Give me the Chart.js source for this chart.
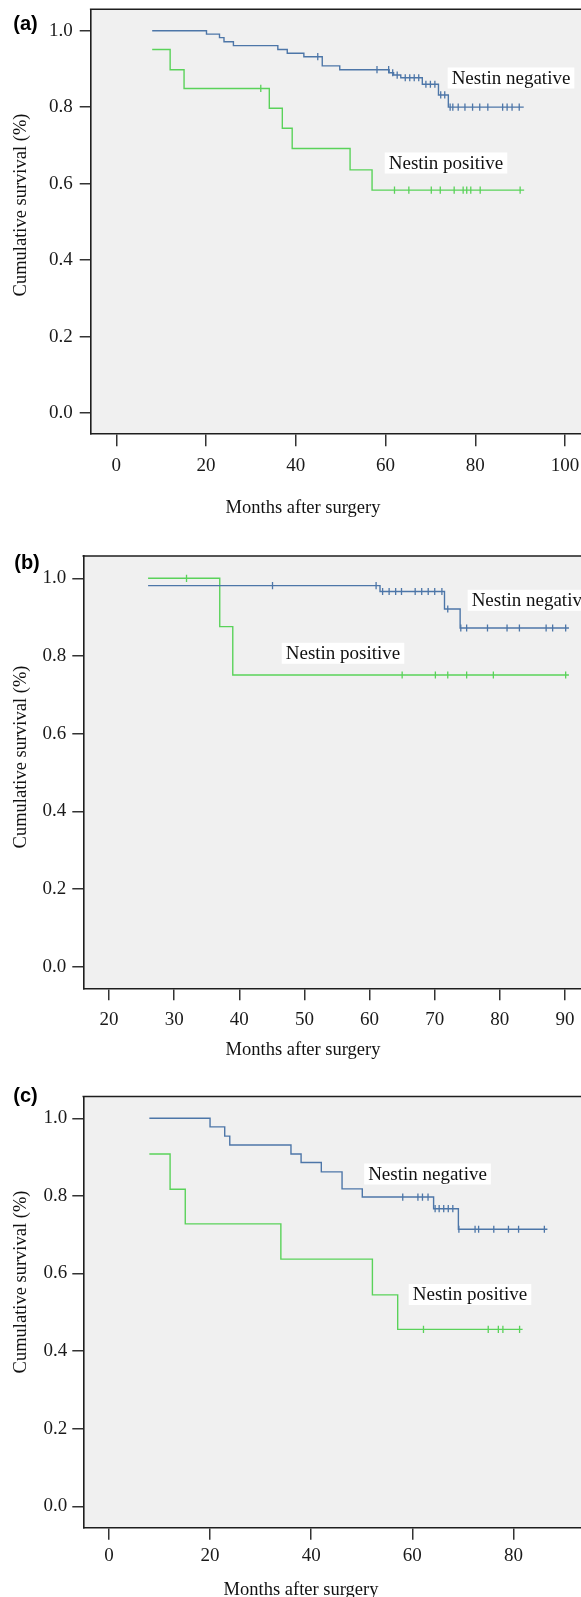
<!DOCTYPE html>
<html><head><meta charset="utf-8">
<script src="https://cdn.jsdelivr.net/npm/chart.js@4.4.1/dist/chart.umd.min.js"></script>
<style>
html,body{margin:0;padding:0;background:#fff;width:581px;height:1597px;overflow:hidden;position:relative;}
canvas{position:absolute;left:0;}
</style></head><body>
<canvas id="ca" width="600" height="530" style="top:0px"></canvas>
<canvas id="cb" width="600" height="535" style="top:530px"></canvas>
<canvas id="cc" width="600" height="532" style="top:1065px"></canvas>
<script>
// ---------- DATA ----------
const yTicks = [0, 0.2, 0.4, 0.6, 0.8, 1.0];
const seriesNames = ['Nestin negative', 'Nestin positive'];
const xTitle = 'Months after surgery';
const yTitle = 'Cumulative survival (%)';

// Panel (a)
const aXTicks = [0, 20, 40, 60, 80, 100];
const aNegTimes = [8.0, 20.1, 23.0, 24.0, 26.1, 36.0, 38.1, 41.8, 45.9, 49.8, 60.8, 61.8, 63.4, 68.2, 71.8, 74.0];
const aNegSurv  = [1.0, 0.991, 0.982, 0.971, 0.961, 0.951, 0.941, 0.932, 0.908, 0.898, 0.890, 0.884, 0.877, 0.860, 0.832, 0.800];
const aNegEnd = 90.8;
const aNegCensor = [44.9, 58.1, 60.7, 61.6, 62.6, 64.4, 65.4, 66.4, 67.4, 69.0, 70.0, 71.0, 72.3, 73.2, 74.4, 75.0, 76.2, 77.7, 79.4, 81.0, 82.8, 86.1, 87.1, 88.2, 89.8];
const aPosTimes = [8.0, 12.0, 15.1, 34.1, 37.0, 39.2, 52.1, 57.0];
const aPosSurv  = [0.951, 0.898, 0.849, 0.797, 0.745, 0.692, 0.636, 0.583];
const aPosEnd = 90.9;
const aPosCensor = [32.2, 62.0, 65.2, 70.2, 72.2, 75.3, 77.3, 78.1, 79.0, 81.1, 90.0];

// Panel (b)
const bXTicks = [20, 30, 40, 50, 60, 70, 80, 90];
const bNegTimes = [26.0, 61.6, 71.5, 73.9];
const bNegSurv  = [0.981, 0.966, 0.921, 0.872];
const bNegEnd = 90.6;
const bNegCensor = [45.1, 61.0, 62.0, 63.0, 64.0, 64.9, 67.0, 68.0, 69.0, 70.0, 71.1, 72.0, 74.0, 74.9, 78.1, 81.1, 83.0, 87.1, 88.1, 90.1];
const bPosTimes = [26.0, 37.0, 39.0];
const bPosSurv  = [1.0, 0.8755, 0.751];
const bPosEnd = 90.6;
const bPosCensor = [31.9, 65.0, 70.1, 72.0, 74.9, 79.0, 90.1];

// Panel (c)
const cXTicks = [0, 20, 40, 60, 80];
const cNegTimes = [8.0, 20.0, 22.9, 23.9, 36.0, 38.0, 42.0, 46.1, 50.1, 64.2, 69.1];
const cNegSurv  = [1.0, 0.978, 0.954, 0.931, 0.908, 0.886, 0.862, 0.818, 0.797, 0.767, 0.714];
const cNegEnd = 86.7;
const cNegCensor = [58.1, 61.1, 62.0, 63.1, 64.5, 65.3, 66.2, 67.1, 68.0, 69.2, 72.4, 73.1, 76.1, 79.0, 81.0, 86.1];
const cPosTimes = [8.0, 12.1, 15.1, 34.0, 52.1, 57.1];
const cPosSurv  = [0.908, 0.817, 0.728, 0.637, 0.545, 0.456];
const cPosEnd = 81.8;
const cPosCensor = [62.2, 75.0, 77.0, 77.9, 81.2];

// ---------- STYLE / LAYOUT ----------
const BLUE = '#4d76a8', GREEN = '#5ad25a';
const SERIF = '"Liberation Serif", "Times New Roman", serif';
const SANS = '"Liberation Sans", Arial, sans-serif';

function kmPoints(times, surv, end) {
  const pts = times.map((t, i) => ({x: t, y: surv[i]}));
  pts.push({x: end, y: surv[surv.length - 1]});
  return pts;
}
function survAt(times, surv, t) {
  let s = surv[0];
  for (let i = 0; i < times.length; i++) if (times[i] <= t) s = surv[i];
  return s;
}
function censorPts(times, surv, cens) {
  return cens.map(t => ({x: t, y: survAt(times, surv, t)}));
}

const framePlugin = {
  id: 'frame',
  beforeDraw(chart) {
    const {ctx, chartArea: a} = chart;
    ctx.save();
    ctx.fillStyle = '#f0f0f0';
    ctx.fillRect(a.left, a.top, a.right - a.left, a.bottom - a.top);
    ctx.restore();
  },
  afterDraw(chart) {
    const {ctx, chartArea: a} = chart;
    const o = chart.options.plugins.frame;
    ctx.save();
    ctx.strokeStyle = '#1e1e1e';
    ctx.lineWidth = 1.6;
    ctx.beginPath();
    ctx.moveTo(a.left - 0.8, a.top);
    ctx.lineTo(a.right, a.top);
    ctx.stroke();
    // panel letter
    ctx.fillStyle = '#000';
    ctx.font = 'bold 20px ' + SANS;
    ctx.textAlign = 'center';
    ctx.textBaseline = 'middle';
    ctx.fillText(o.letter, o.letterX, o.letterY);
    // axis titles
    ctx.font = '18.5px ' + SERIF;
    ctx.fillStyle = '#111';
    ctx.fillText(xTitle, o.xtX, o.xtY);
    ctx.save();
    ctx.translate(o.ytX, o.ytY);
    ctx.rotate(-Math.PI / 2);
    ctx.fillText(yTitle, 0, 0);
    ctx.restore();
    // series labels with white boxes
    ctx.font = '19px ' + SERIF;
    o.labels.forEach(l => {
      const w = ctx.measureText(l.text).width;
      ctx.fillStyle = '#fff';
      ctx.fillRect(l.x - w / 2 - 4, l.y - 10.5, w + 8, 21);
      ctx.fillStyle = '#111';
      ctx.fillText(l.text, l.x, l.y + 1);
    });
    ctx.restore();
  }
};

function makeChart(id, d, L) {
  return new Chart(document.getElementById(id), {
    type: 'line',
    data: {
      datasets: [
        {data: kmPoints(d.negT, d.negS, d.negEnd), borderColor: BLUE, borderWidth: 1.4, stepped: true, pointRadius: 0, fill: false},
        {data: kmPoints(d.posT, d.posS, d.posEnd), borderColor: GREEN, borderWidth: 1.4, stepped: true, pointRadius: 0, fill: false},
        {data: censorPts(d.negT, d.negS, d.negC), showLine: false, pointStyle: 'line', pointRotation: 90, pointRadius: 3.6, borderColor: BLUE, pointBorderColor: BLUE, pointBorderWidth: 1.3},
        {data: censorPts(d.posT, d.posS, d.posC), showLine: false, pointStyle: 'line', pointRotation: 90, pointRadius: 3.6, borderColor: GREEN, pointBorderColor: GREEN, pointBorderWidth: 1.3}
      ]
    },
    options: {
      responsive: false, animation: false, devicePixelRatio: 1,
      layout: {autoPadding: false, padding: {left: 0, right: 0, top: L.top, bottom: L.padBottom}},
      plugins: {legend: {display: false}, tooltip: {enabled: false}, frame: L.frame},
      scales: {
        x: {
          type: 'linear', min: L.xmin, max: L.xmax,
          afterBuildTicks: s => { s.ticks = d.xTicks.map(v => ({value: v})); },
          afterFit: s => { s.height = 60; s.paddingLeft = 0; s.paddingRight = 0; },
          grid: {drawOnChartArea: false, drawTicks: true, tickLength: L.xTickLen, color: '#333', lineWidth: 1.5},
          border: {display: true, color: '#1e1e1e', width: 1.6},
          ticks: {font: {family: SERIF, size: 19}, color: '#1a1a1a', padding: L.xPad, maxRotation: 0, autoSkip: false, callback: v => String(v)}
        },
        y: {
          type: 'linear', min: L.ymin, max: L.ymax,
          afterBuildTicks: s => { s.ticks = yTicks.map(v => ({value: v})); },
          afterFit: s => { s.width = L.left; s.paddingTop = 0; s.paddingBottom = 0; },
          grid: {drawOnChartArea: false, drawTicks: true, tickLength: 11, color: '#333', lineWidth: 1.5},
          border: {display: true, color: '#1e1e1e', width: 1.6},
          ticks: {font: {family: SERIF, size: 19}, color: '#1a1a1a', padding: L.yPad, callback: v => Number(v).toFixed(1)}
        }
      }
    },
    plugins: [framePlugin]
  });
}

makeChart('ca',
  {negT: aNegTimes, negS: aNegSurv, negEnd: aNegEnd, negC: aNegCensor, posT: aPosTimes, posS: aPosSurv, posEnd: aPosEnd, posC: aPosCensor, xTicks: aXTicks},
  {top: 9.3, padBottom: 36.7, left: 90.7, xmin: -5.705, xmax: 107.8, ymin: -0.0531, ymax: 1.056, xTickLen: 13, xPad: 8, yPad: 7,
   frame: {letter: '(a)', letterX: 25.5, letterY: 24.5, xtX: 303, xtY: 508, ytX: 21, ytY: 205,
     labels: [{text: seriesNames[0], x: 511, y: 78}, {text: seriesNames[1], x: 446, y: 163}]}});

makeChart('cb',
  {negT: bNegTimes, negS: bNegSurv, negEnd: bNegEnd, negC: bNegCensor, posT: bPosTimes, posS: bPosSurv, posEnd: bPosEnd, posC: bPosCensor, xTicks: bXTicks},
  {top: 26, padBottom: 16.7, left: 83.3, xmin: 16.055, xmax: 95.37, ymin: -0.0556, ymax: 1.0574, xTickLen: 12, xPad: 8, yPad: 6,
   frame: {letter: '(b)', letterX: 27, letterY: 33, xtX: 303, xtY: 520, ytX: 21, ytY: 227,
     labels: [{text: seriesNames[0], x: 531, y: 70.3}, {text: seriesNames[1], x: 343, y: 123.3}]}});

makeChart('cc',
  {negT: cNegTimes, negS: cNegSurv, negEnd: cNegEnd, negC: cNegCensor, posT: cPosTimes, posS: cPosSurv, posEnd: cPosEnd, posC: cPosCensor, xTicks: cXTicks},
  {top: 31.5, padBottom: 9.3, left: 83.3, xmin: -5.06, xmax: 97.1, ymin: -0.0552, ymax: 1.0562, xTickLen: 12, xPad: 5, yPad: 5,
   frame: {letter: '(c)', letterX: 25.5, letterY: 31.5, xtX: 301, xtY: 525, ytX: 21, ytY: 217,
     labels: [{text: seriesNames[0], x: 427.5, y: 109}, {text: seriesNames[1], x: 470, y: 229.5}]}});
</script>
</body></html>
